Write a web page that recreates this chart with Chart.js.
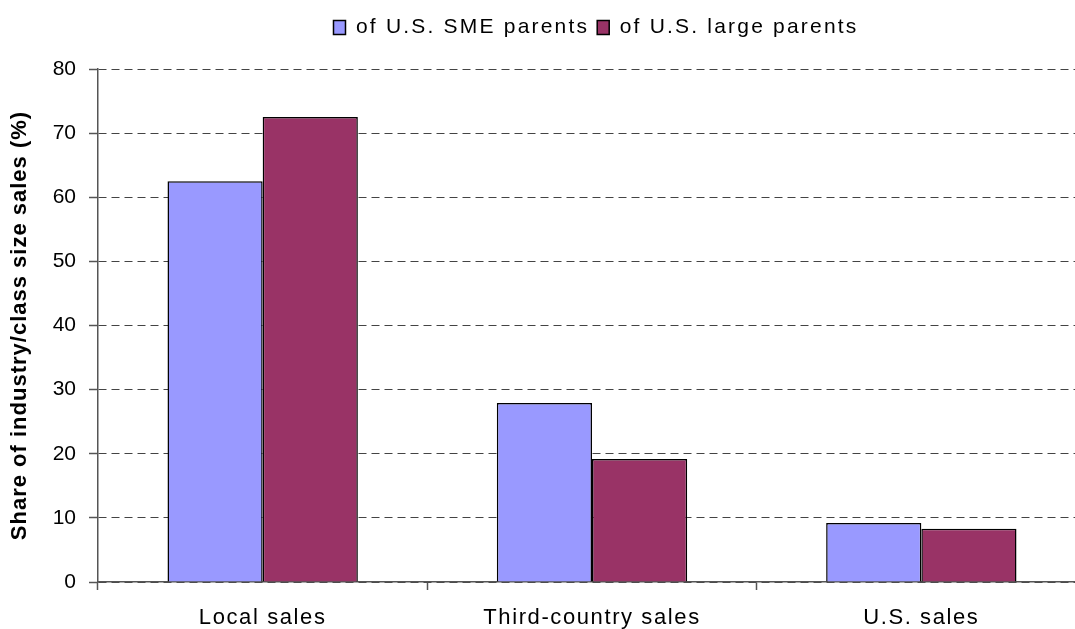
<!DOCTYPE html>
<html>
<head>
<meta charset="utf-8">
<script src="https://cdn.jsdelivr.net/npm/chart.js@4.4.1/dist/chart.umd.min.js"></script>
<style>
html,body{margin:0;padding:0;background:#fff;overflow:hidden;}
#wrap{width:1086px;height:629px;}
</style>
</head>
<body>
<div id="wrap"><canvas id="c" width="1086" height="629"></canvas></div>
<script>
const categories = ['Local sales', 'Third-country sales', 'U.S. sales'];
const smeValues = [62.5, 27.9, 9.2];
const largeValues = [72.5, 19.2, 8.3];
const seriesNames = ['of U.S. SME parents', 'of U.S. large parents'];
const yTicks = [0, 10, 20, 30, 40, 50, 60, 70, 80];
const yTitle = 'Share of industry/class size sales (%)';

// font families; the "lsA_B" token encodes a letter spacing of A.B px
const F_TICK_Y = "'Liberation Sans', ls0_0, Arial, sans-serif";
const F_TICK_X = "'Liberation Sans', ls1_6, Arial, sans-serif";
const F_LEGEND = "'Liberation Sans', ls2_2, Arial, sans-serif";
const F_TITLE  = "'Liberation Sans', ls1_0, Arial, sans-serif";

const canvas = document.getElementById('c');
const ctx = canvas.getContext('2d');
(function patchFont(c) {
  const desc = Object.getOwnPropertyDescriptor(CanvasRenderingContext2D.prototype, 'font');
  Object.defineProperty(c, 'font', {
    configurable: true,
    get() { return desc.get.call(this); },
    set(v) {
      desc.set.call(this, v);
      const m = /ls(\d+)_(\d+)/.exec(v);
      this.letterSpacing = m ? (m[1] + '.' + m[2] + 'px') : '0px';
    }
  });
})(ctx);

Chart.defaults.font.family = F_TICK_Y;
Chart.defaults.color = '#000';

new Chart(ctx, {
  type: 'bar',
  data: {
    labels: categories,
    datasets: [
      { label: seriesNames[0], data: smeValues, backgroundColor: '#9999FF', borderColor: '#000', borderWidth: 1.5 },
      { label: seriesNames[1], data: largeValues, backgroundColor: '#993366', borderColor: '#000', borderWidth: 1.5 }
    ]
  },
  options: {
    responsive: false,
    animation: false,
    layout: { padding: { top: 9, left: 4, right: 0, bottom: 0 } },
    categoryPercentage: 0.578,
    barPercentage: 1.0,
    plugins: {
      tooltip: { enabled: false },
      legend: {
        position: 'top',
        labels: { font: { size: 21, family: F_LEGEND }, boxWidth: 12, boxHeight: 14, padding: 8, color: '#000' }
      }
    },
    scales: {
      x: {
        grid: { offset: true, drawOnChartArea: false, drawTicks: true, tickLength: 8, color: '#555', tickWidth: 1.5 },
        border: { color: '#555', width: 1.5 },
        ticks: { font: { size: 22, family: F_TICK_X }, padding: 15, color: '#000', maxRotation: 0 },
        afterFit: s => { s.height = 47; }
      },
      y: {
        min: 0, max: 80,
        afterBuildTicks: s => { s.ticks = yTicks.map(v => ({ value: v })); },
        grid: { color: '#444', lineWidth: 1, tickLength: 9, tickColor: '#555', tickWidth: 1.5, tickBorderDash: [] },
        border: { color: '#555', width: 1.5, dash: [8, 5] },
        ticks: { font: { size: 21, family: F_TICK_Y }, padding: 13, color: '#000' },
        title: { display: true, text: yTitle, font: { size: 22, weight: 'bold', family: F_TITLE }, color: '#000', padding: 3 },
        afterFit: s => { s.width = 94; }
      }
    }
  },
  plugins: [{
    id: 'legendSpace',
    afterInit(chart) {
      const lg = chart.legend;
      if (lg) {
        const orig = lg.fit;
        lg.fit = function () { orig.call(this); this.height += 21; };
      }
    },
    afterLayout(chart) {
      const lg = chart.legend;
      if (lg) {
        const shift = (chart.chartArea.left + chart.chartArea.right) / 2 + 4 - (lg.left + lg.right) / 2;
        lg.left += shift;
        lg.right += shift;
      }
    }
  }]
});
</script>
</body>
</html>
